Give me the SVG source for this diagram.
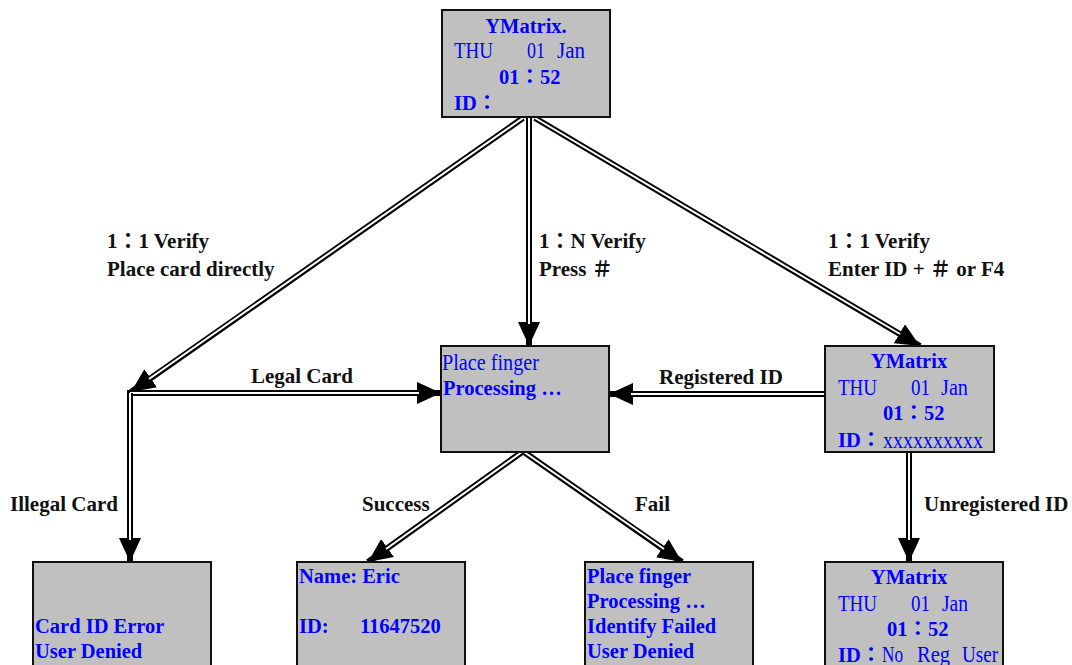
<svg xmlns="http://www.w3.org/2000/svg" width="1072" height="665" viewBox="0 0 1072 665">
<defs>
<style>
.box{fill:#c0c0c0;stroke:#111;stroke-width:2}
.t{font-family:"Liberation Serif","Noto Sans CJK JP",serif;font-size:20.5px;fill:#0000ff}
.b{font-weight:bold}
.r{font-size:23px}
.lbl{font-family:"Liberation Serif","Noto Sans CJK JP",serif;font-size:21px;font-weight:bold;fill:#111}
.outer{fill:none;stroke:#000;stroke-width:6}
.inner{fill:none;stroke:#fff;stroke-width:2}
</style>
<marker id="ah" markerUnits="userSpaceOnUse" markerWidth="26" markerHeight="24" refX="24" refY="11" orient="auto">
<path d="M0,0 L24,11 L0,22 Z" fill="#000"/>
</marker>
</defs>
<rect width="1072" height="665" fill="#fff"/>

<g id="connectors">
<path class="outer" d="M523,118 L131,392" marker-end="url(#ah)"/>
<path class="inner" d="M523,118 L149,379"/>
<path class="outer" d="M529,118 L529,346" marker-end="url(#ah)"/>
<path class="inner" d="M529,118 L529,324"/>
<path class="outer" d="M535,118 L920,346" marker-end="url(#ah)"/>
<path class="inner" d="M535,118 L900,334"/>
<path class="outer" d="M127,393 L441,393" marker-end="url(#ah)"/>
<path class="inner" d="M130,393 L419,393"/>
<path class="outer" d="M130,393 L130,562" marker-end="url(#ah)"/>
<path class="inner" d="M130,393 L130,540"/>
<path class="outer" d="M825,394 L609,394" marker-end="url(#ah)"/>
<path class="inner" d="M825,394 L631,394"/>
<path class="outer" d="M909,453 L909,562" marker-end="url(#ah)"/>
<path class="inner" d="M909,453 L909,540"/>
<path class="outer" d="M522,452 L368,562" marker-end="url(#ah)"/>
<path class="inner" d="M522,452 L386,549"/>
<path class="outer" d="M524,452 L682,562" marker-end="url(#ah)"/>
<path class="inner" d="M524,452 L664,549"/>
</g>

<g id="labels">
<text class="lbl" x="107" y="248">1：1 Verify</text>
<text class="lbl" x="107" y="276">Place card directly</text>
<text class="lbl" x="539" y="248">1：N Verify</text>
<text class="lbl" x="539" y="276">Press  ＃</text>
<text class="lbl" x="828" y="248">1：1 Verify</text>
<text class="lbl" x="828" y="276">Enter ID +  ＃  or F4</text>
<text class="lbl" x="302" y="383" text-anchor="middle">Legal Card</text>
<text class="lbl" x="659" y="384">Registered ID</text>
<text class="lbl" x="10" y="511">Illegal Card</text>
<text class="lbl" x="362" y="511">Success</text>
<text class="lbl" x="635" y="511">Fail</text>
<text class="lbl" x="924" y="511">Unregistered ID</text>
</g>

<g id="node-top">
<rect class="box" x="442" y="10" width="168" height="107"/>
<text class="t b" x="526" y="33" text-anchor="middle">YMatrix.</text>
<text class="t r" x="454" y="58" textLength="39" lengthAdjust="spacingAndGlyphs">THU</text>
<text class="t r" x="527" y="58" textLength="18" lengthAdjust="spacingAndGlyphs">01</text>
<text class="t r" x="557" y="58" textLength="28" lengthAdjust="spacingAndGlyphs">Jan</text>
<text class="t b" x="499" y="84">01：52</text>
<text class="t b" x="454" y="110">ID：</text>
</g>

<g id="node-process">
<rect class="box" x="441" y="346" width="168" height="106"/>
<text class="t r" x="442" y="370" textLength="97" lengthAdjust="spacingAndGlyphs">Place finger</text>
<text class="t b" x="443" y="395">Processing …</text>
</g>

<g id="node-right">
<rect class="box" x="825" y="346" width="169" height="106"/>
<text class="t b" x="909" y="368" text-anchor="middle">YMatrix</text>
<text class="t r" x="838" y="395" textLength="39" lengthAdjust="spacingAndGlyphs">THU</text>
<text class="t r" x="911" y="395" textLength="19" lengthAdjust="spacingAndGlyphs">01</text>
<text class="t r" x="941" y="395" textLength="27" lengthAdjust="spacingAndGlyphs">Jan</text>
<text class="t b" x="883" y="420">01：52</text>
<text class="t b" x="838" y="447">ID：</text>
<text class="t r" x="883" y="448" textLength="100" lengthAdjust="spacingAndGlyphs">xxxxxxxxxx</text>
</g>

<g id="node-carderror">
<rect class="box" x="33" y="562" width="178" height="120"/>
<text class="t b" x="35" y="633">Card ID Error</text>
<text class="t b" x="35" y="658">User Denied</text>
</g>

<g id="node-success">
<rect class="box" x="297" y="562" width="168" height="120"/>
<text class="t b" x="299" y="583">Name: Eric</text>
<text class="t b" x="299" y="633">ID:</text>
<text class="t b" x="360" y="633">11647520</text>
</g>

<g id="node-fail">
<rect class="box" x="585" y="562" width="168" height="120"/>
<text class="t b" x="587" y="583">Place finger</text>
<text class="t b" x="587" y="608">Processing …</text>
<text class="t b" x="587" y="633">Identify Failed</text>
<text class="t b" x="587" y="658">User Denied</text>
</g>

<g id="node-unreg">
<rect class="box" x="825" y="562" width="178" height="120"/>
<text class="t b" x="909" y="584" text-anchor="middle">YMatrix</text>
<text class="t r" x="838" y="611" textLength="39" lengthAdjust="spacingAndGlyphs">THU</text>
<text class="t r" x="911" y="611" textLength="19" lengthAdjust="spacingAndGlyphs">01</text>
<text class="t r" x="942" y="611" textLength="26" lengthAdjust="spacingAndGlyphs">Jan</text>
<text class="t b" x="887" y="636">01：52</text>
<text class="t b" x="838" y="662">ID：</text>
<text class="t r" x="882" y="662" textLength="21" lengthAdjust="spacingAndGlyphs">No</text>
<text class="t r" x="917" y="662" textLength="33" lengthAdjust="spacingAndGlyphs">Reg</text>
<text class="t r" x="962" y="662" textLength="36" lengthAdjust="spacingAndGlyphs">User</text>
</g>
</svg>
